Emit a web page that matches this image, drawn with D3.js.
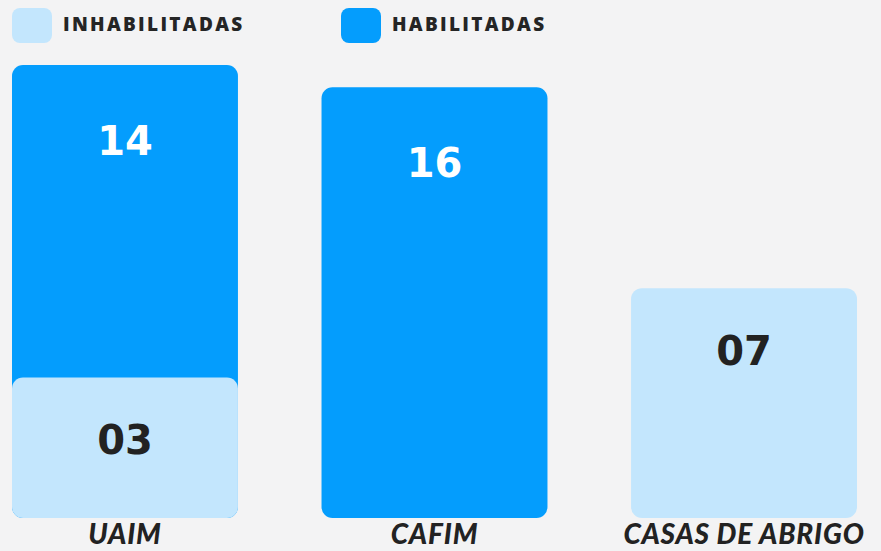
<!DOCTYPE html>
<html><head><meta charset="utf-8">
<script src="https://cdn.jsdelivr.net/npm/d3@7"></script>
<style>
html,body{margin:0;padding:0;background:#f3f3f4;}
svg{display:block;}
</style></head>
<body>
<svg id="chart" width="881" height="551"></svg>
<script>
const categories = ["UAIM", "CAFIM", "CASAS DE ABRIGO"];
const inhabilitadas = [3, 0, 7];
const habilitadas = [14, 16, 0];
const seriesNames = ["INHABILITADAS", "HABILITADAS"];
const valueLabels = { inh: ["03", "", "07"], hab: ["14", "16", ""] };

const colors = { inh: "#c3e6fd", hab: "#049dfd" };
const svg = d3.select("#chart");
const W = 881, H = 551;

svg.append("rect").attr("width", W).attr("height", H).attr("fill", "#f3f3f4");

const x = d3.scaleBand().domain(categories).range([12, 857]).paddingInner(0.27).paddingOuter(0);
const y = d3.scaleLinear().domain([-3.3, 17]).range([518, 65]);
const base = y.range()[0];
const rx = 11;

const data = categories.map((c, i) => ({ cat: c, inh: inhabilitadas[i], hab: habilitadas[i], i }));

svg.selectAll(".hab").data(data.filter(d => d.hab > 0)).join("rect")
  .attr("class", "hab")
  .attr("x", d => x(d.cat)).attr("width", x.bandwidth())
  .attr("y", d => y(d.inh + d.hab)).attr("height", d => base - y(d.inh + d.hab))
  .attr("rx", rx).attr("fill", colors.hab);

svg.selectAll(".inh").data(data.filter(d => d.inh > 0)).join("rect")
  .attr("class", "inh")
  .attr("x", d => x(d.cat)).attr("width", x.bandwidth())
  .attr("y", d => y(d.inh)).attr("height", d => base - y(d.inh))
  .attr("rx", rx).attr("fill", colors.inh);

const numFont = "'DejaVu Sans', sans-serif";
svg.selectAll(".habLbl").data(data.filter(d => d.hab > 0)).join("text")
  .attr("x", d => x(d.cat) + x.bandwidth() / 2)
  .attr("y", d => y(d.inh + d.hab) + 90)
  .attr("text-anchor", "middle")
  .attr("font-family", numFont).attr("font-weight", 700).attr("font-size", 40)
  .attr("fill", "#ffffff")
  .text(d => valueLabels.hab[d.i]);

svg.selectAll(".inhLbl").data(data.filter(d => d.inh > 0)).join("text")
  .attr("x", d => x(d.cat) + x.bandwidth() / 2)
  .attr("y", d => y(d.inh) + 77)
  .attr("text-anchor", "middle")
  .attr("font-family", numFont).attr("font-weight", 700).attr("font-size", 40)
  .attr("fill", "#222222")
  .text(d => valueLabels.inh[d.i]);

svg.selectAll(".cat").data(categories).join("text")
  .attr("x", d => x(d) + x.bandwidth() / 2)
  .attr("y", 544)
  .attr("text-anchor", "middle")
  .attr("font-family", "'Lato', sans-serif").attr("font-weight", 900).attr("font-style", "italic")
  .attr("font-size", 28).attr("letter-spacing", 0.8)
  .attr("fill", "#222222")
  .text(d => d);

const legX = [12, 341];
const lg = svg.selectAll(".leg").data(seriesNames).join("g")
  .attr("transform", (d, i) => `translate(${legX[i]},8)`);
lg.append("rect").attr("width", 40).attr("height", 35).attr("rx", 8)
  .attr("fill", (d, i) => i === 0 ? colors.inh : colors.hab);
lg.append("text").attr("x", 51).attr("y", 23)
  .attr("font-family", "'Open Sans', sans-serif").attr("font-weight", 800)
  .attr("font-size", 19).attr("letter-spacing", 2.3)
  .attr("fill", "#252525")
  .text(d => d);
</script>
</body></html>
